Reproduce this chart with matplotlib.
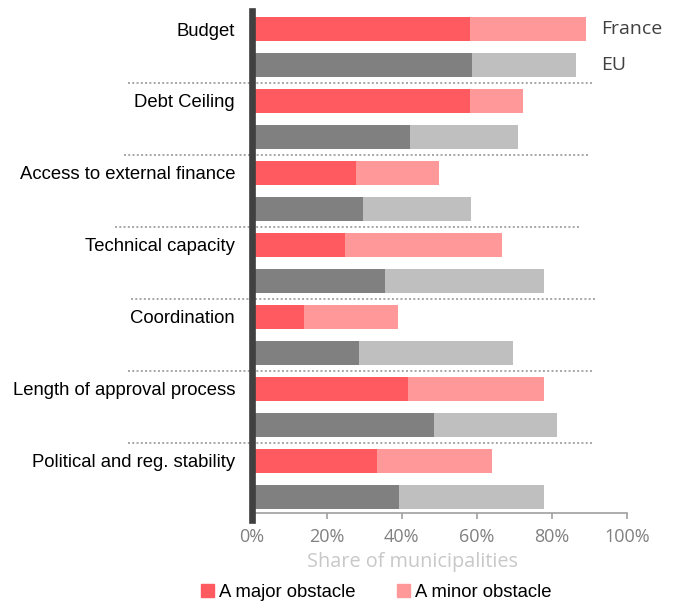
import numpy as np
import matplotlib
matplotlib.use("Agg")
import matplotlib.pyplot as plt
from matplotlib.patches import Patch

# --- data (shares of municipalities, %) ---
categories = ["Budget", "Debt Ceiling", "Access to external finance",
              "Technical capacity", "Coordination",
              "Length of approval process", "Political and reg. stability"]
france_major = [58.3, 58.3, 27.8, 24.9, 13.9, 41.7, 33.3]
france_minor = [30.7, 14.0, 22.2, 41.8, 25.1, 36.2, 30.6]
eu_major = [58.7, 42.2, 29.7, 35.5, 28.6, 48.6, 39.2]
eu_minor = [27.7, 28.7, 28.7, 42.4, 41.0, 32.7, 38.7]
xticks = [0, 20, 40, 60, 80, 100]
series_names = ["France", "EU"]
legend_labels = ["A major obstacle", "A minor obstacle"]

RED_DARK, RED_LIGHT = "#ff5a5f", "#ff9999"
GREY_DARK, GREY_LIGHT = "#808080", "#bfbfbf"

fig = plt.figure(figsize=(6.78, 6.02), dpi=100)
ax = fig.add_axes([0.3712, 0.1478, 0.5536, 0.8339])

n = len(categories)
y_fr = np.arange(n) * 2
y_eu = y_fr + 1
h = 0.67

ax.barh(y_fr, france_major, height=h, color=RED_DARK)
ax.barh(y_fr, france_minor, left=france_major, height=h, color=RED_LIGHT)
ax.barh(y_eu, eu_major, height=h, color=GREY_DARK)
ax.barh(y_eu, eu_minor, left=eu_major, height=h, color=GREY_LIGHT)

ax.set_xlim(0, 100)
ax.set_ylim(2 * n - 0.55, -0.5)

# dotted separators between groups (run out into the label area)
sep_start = [-33.0, -34.0, -36.4, -32.2, -33.0, -33.0]
sep_end = [90.7, 89.9, 87.7, 91.7, 90.9, 90.9]
for k in range(1, n):
    yy = 2 * k - 0.5
    ax.plot([sep_start[k - 1], sep_end[k - 1]], [yy, yy], color="#a6a6a6",
            lw=1.4, dashes=(1, 1.2), clip_on=False, zorder=1)

# France / EU labels next to first group
ax.text(93, y_fr[0], series_names[0], va="center", ha="left",
        fontsize=14, family="Open Sans", color="#404040")
ax.text(93, y_eu[0], series_names[1], va="center", ha="left",
        fontsize=14, family="Open Sans", color="#404040")

# axes styling
for s in ["top", "right", "left"]:
    ax.spines[s].set_visible(False)
ax.spines["bottom"].set_color("#a0a0a0")
ax.spines["bottom"].set_linewidth(1.2)
ax.axvline(0, ymin=-0.013, ymax=1, color="#404040", lw=4.8, clip_on=False, zorder=5)

ax.set_yticks(y_fr)
ax.set_yticklabels(categories, family="Liberation Sans", fontsize=13.3, color="black")
ax.tick_params(axis="y", length=0, pad=12)

ax.set_xticks(xticks)
ax.set_xticklabels([f"{v}%" for v in xticks], family="Open Sans", fontsize=13, color="#808080")
ax.tick_params(axis="x", length=4.5, width=1.2, color="#a0a0a0", pad=6.5)

ax.set_xlabel("Share of municipalities", family="Open Sans", fontsize=14.3, color="#c8c8c8")
ax.xaxis.set_label_coords(0.429, -0.078)

handles = [Patch(color=RED_DARK), Patch(color=RED_LIGHT)]
fig.legend(handles, legend_labels, loc="center", bbox_to_anchor=(0.555, 0.016),
           ncol=2, frameon=False, handlelength=0.7, handleheight=0.7,
           handletextpad=0.3, columnspacing=2.2,
           prop={"family": "Liberation Sans", "size": 13.3})

fig.savefig("out.png", dpi=100)
